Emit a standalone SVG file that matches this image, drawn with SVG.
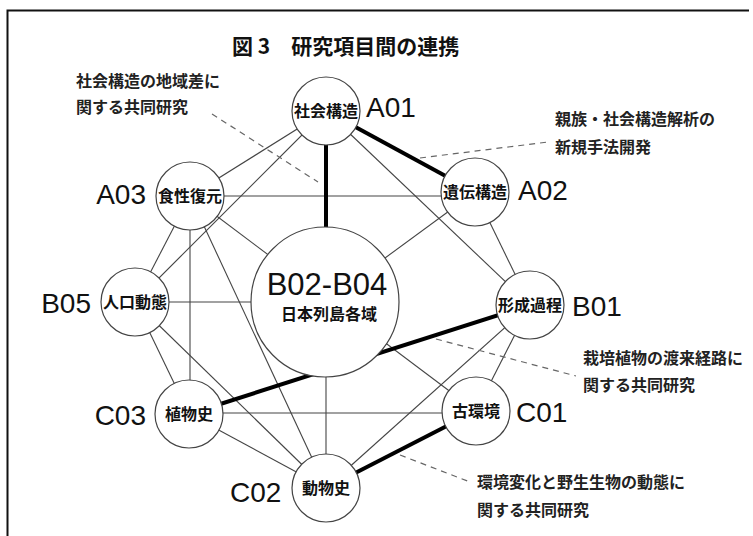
<svg xmlns="http://www.w3.org/2000/svg" width="753" height="536" viewBox="0 0 753 536">
<style>
.thin{stroke:#444;stroke-width:1.1;fill:none}
.thick{stroke:#000;stroke-width:4;fill:none}
.dash{stroke:#666;stroke-width:1.2;stroke-dasharray:6 5;fill:none}
.node{fill:#fff;stroke:#444;stroke-width:1.2}
.jl{font-family:"Noto Sans CJK JP","Noto Sans CJK SC",sans-serif;font-size:16px;font-weight:bold;fill:#111;text-anchor:middle}
.ann{font-family:"Noto Sans CJK JP","Noto Sans CJK SC",sans-serif;font-size:16px;font-weight:bold;fill:#222}
.code{font-family:"Liberation Sans",Arial,sans-serif;font-size:28px;fill:#111}
</style>
<rect width="753" height="536" fill="#fff"/>
<path d="M7.5,536 V10.5 H749" fill="none" stroke="#111" stroke-width="2"/>
<text x="232" y="54" font-family="'Noto Sans CJK JP',sans-serif" font-size="21" font-weight="bold" fill="#111">図 3　研究項目間の連携</text>
<g id="connectors">
<line class="thin" x1="326" y1="111" x2="190" y2="196"/>
<line class="thin" x1="326" y1="111" x2="135" y2="302"/>
<line class="thin" x1="326" y1="111" x2="530" y2="305"/>
<line class="thin" x1="190" y1="196" x2="475" y2="196"/>
<line class="thin" x1="475" y1="192" x2="325" y2="302"/>
<line class="thin" x1="475" y1="192" x2="530" y2="305"/>
<line class="thin" x1="190" y1="196" x2="476" y2="411"/>
<line class="thin" x1="190" y1="196" x2="135" y2="302"/>
<line class="thin" x1="190" y1="196" x2="190" y2="414"/>
<line class="thin" x1="190" y1="196" x2="326" y2="488"/>
<line class="thin" x1="135" y1="302" x2="325" y2="302"/>
<line class="thin" x1="135" y1="302" x2="189" y2="414"/>
<line class="thin" x1="135" y1="302" x2="326" y2="488"/>
<line class="thin" x1="326" y1="302" x2="326" y2="488"/>
<line class="thin" x1="530" y1="305" x2="476" y2="411"/>
<line class="thin" x1="530" y1="305" x2="326" y2="488"/>
<line class="thin" x1="189" y1="413" x2="476" y2="413"/>
<line class="thin" x1="189" y1="414" x2="326" y2="488"/>
<line class="thick" x1="326" y1="111" x2="326" y2="302"/>
<line class="thick" x1="326" y1="111" x2="475" y2="192"/>
<line class="thick" x1="189" y1="414" x2="530" y2="305"/>
<line class="thick" x1="476" y1="411" x2="326" y2="488"/>
<line class="dash" x1="212" y1="114" x2="318" y2="182"/>
<line class="dash" x1="420" y1="158" x2="548" y2="142"/>
<line class="dash" x1="436" y1="339" x2="576" y2="376"/>
<line class="dash" x1="400" y1="455" x2="470" y2="482"/>
</g>
<g id="B02-B04">
<ellipse class="node" cx="325" cy="302" rx="74" ry="75"/>
<text x="327" y="295" font-family="'Liberation Sans',Arial,sans-serif" font-size="31" fill="#111" text-anchor="middle">B02-B04</text>
<text class="jl" x="329" y="320">日本列島各域</text>
</g>
<g id="A01"><circle class="node" cx="326" cy="111" r="34"/><text class="jl" x="326" y="117">社会構造</text><text class="code" x="366" y="117">A01</text></g>
<g id="A02"><circle class="node" cx="475" cy="192" r="34"/><text class="jl" x="475" y="198">遺伝構造</text><text class="code" x="518" y="200">A02</text></g>
<g id="A03"><circle class="node" cx="190" cy="196" r="34"/><text class="jl" x="190" y="202">食性復元</text><text class="code" x="146" y="204" text-anchor="end">A03</text></g>
<g id="B05"><circle class="node" cx="135" cy="302" r="34"/><text class="jl" x="135" y="308">人口動態</text><text class="code" x="91" y="313" text-anchor="end">B05</text></g>
<g id="B01"><circle class="node" cx="530" cy="305" r="34"/><text class="jl" x="530" y="311">形成過程</text><text class="code" x="572" y="316">B01</text></g>
<g id="C01"><circle class="node" cx="476" cy="411" r="34"/><text class="jl" x="476" y="417">古環境</text><text class="code" x="516" y="422">C01</text></g>
<g id="C02"><circle class="node" cx="326" cy="488" r="34"/><text class="jl" x="326" y="494">動物史</text><text class="code" x="230" y="502">C02</text></g>
<g id="C03"><circle class="node" cx="189" cy="414" r="34"/><text class="jl" x="189" y="420">植物史</text><text class="code" x="146" y="425" text-anchor="end">C03</text></g>
<g id="notes">
<text class="ann" x="76" y="87">社会構造の地域差に</text>
<text class="ann" x="76" y="113">関する共同研究</text>
<text class="ann" x="555" y="125">親族・社会構造解析の</text>
<text class="ann" x="555" y="153">新規手法開発</text>
<text class="ann" x="583" y="364">栽培植物の渡来経路に</text>
<text class="ann" x="583" y="391">関する共同研究</text>
<text class="ann" x="477" y="488">環境変化と野生生物の動態に</text>
<text class="ann" x="477" y="516">関する共同研究</text>
</g>
</svg>
